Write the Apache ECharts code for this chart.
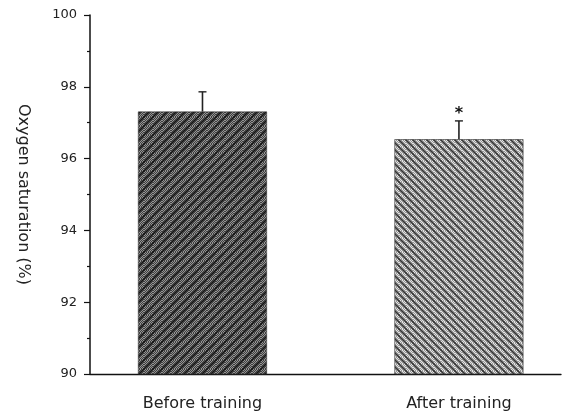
<!DOCTYPE html>
<html>
<head>
<meta charset="utf-8">
<script src="https://cdn.jsdelivr.net/npm/echarts@6/dist/echarts.min.js"></script>
<style>
  html, body { margin: 0; padding: 0; background: #fff; }
  #chart { width: 563px; height: 414px; }
</style>
</head>
<body>
<div id="chart"></div>
<script>
// Oxygen saturation before and after training (mean with SD)
const categories = ['Before training', 'After training'];
const means = [97.31, 96.54];
const upperError = [97.86, 97.05];
const significance = ['', '*'];
const yTicks = [90, 92, 94, 96, 98, 100];

// Hatched fills for the two bars
function hatch(base1, base2, line, forward, size) {
  const c = document.createElement('canvas');
  c.width = size; c.height = size;
  const g = c.getContext('2d');
  for (let y = 0; y < size; y++) {
    for (let x = 0; x < size; x++) {
      g.fillStyle = (x + y) % 2 === 0 ? base1 : base2;
      g.fillRect(x, y, 1, 1);
    }
  }
  g.strokeStyle = line;
  g.lineWidth = 1.6;
  g.beginPath();
  if (forward) {
    g.moveTo(-1, size + 1); g.lineTo(size + 1, -1);
    g.moveTo(-1 - size, size + 1); g.lineTo(1, -1);
    g.moveTo(size - 1, size + 1); g.lineTo(2 * size + 1, -1);
  } else {
    g.moveTo(-1, -1); g.lineTo(size + 1, size + 1);
    g.moveTo(-1 - size, -1); g.lineTo(1, size + 1);
    g.moveTo(size - 1, -1); g.lineTo(2 * size + 1, size + 1);
  }
  g.stroke();
  return c;
}

const fills = [
  { image: hatch('#3e3e3e', '#949494', '#151515', true, 9), repeat: 'repeat' },
  { image: hatch('#969696', '#e4e4e4', '#353535', false, 7), repeat: 'repeat' }
];

const font = '"DejaVu Sans", sans-serif';
const chart = echarts.init(document.getElementById('chart'), null, { renderer: 'canvas' });

chart.setOption({
  animation: false,
  backgroundColor: '#fff',
  grid: { left: 90, right: 2, top: 15, bottom: 40 },
  xAxis: {
    type: 'value',
    min: -0.4386,
    max: 1.398,
    splitLine: { show: false },
    axisLine: { show: true, onZero: false, lineStyle: { color: '#111', width: 1.3 } },
    axisTick: { show: false },
    axisLabel: {
      customValues: [0, 1],
      formatter: v => categories[Math.round(v)] || '',
      color: '#222', fontFamily: font, fontSize: 16, margin: 22
    }
  },
  yAxis: {
    type: 'value',
    min: yTicks[0],
    max: yTicks[yTicks.length - 1],
    interval: 2,
    name: 'Oxygen saturation (%)',
    nameLocation: 'middle',
    nameRotate: -90,
    nameGap: 59,
    nameTextStyle: { color: '#222', fontFamily: font, fontSize: 16 },
    splitLine: { show: false },
    axisLine: { show: true, onZero: false, lineStyle: { color: '#111', width: 1.5 } },
    axisTick: { show: true, length: 6, lineStyle: { color: '#111', width: 1.2 } },
    minorTick: { show: true, splitNumber: 2, length: 3, lineStyle: { color: '#111', width: 1.2 } },
    axisLabel: { color: '#222', fontFamily: font, fontSize: 13, margin: 13 }
  },
  series: [
    {
      type: 'bar',
      barWidth: 129,
      data: means.map((m, i) => ({ value: [i, m], itemStyle: { color: fills[i] } })),
      itemStyle: { borderColor: '#333', borderWidth: 0.6 }
    },
    {
      type: 'custom',
      z: 5,
      data: means.map((m, i) => [i, m, upperError[i]]),
      renderItem: (params, api) => {
        const i = api.value(0);
        const base = api.coord([i, api.value(1)]);
        const top = api.coord([i, api.value(2)]);
        const half = 4;
        const children = [
          { type: 'line', shape: { x1: base[0], y1: base[1], x2: top[0], y2: top[1] },
            style: { stroke: '#222', lineWidth: 1.6 } },
          { type: 'line', shape: { x1: top[0] - half, y1: top[1], x2: top[0] + half, y2: top[1] },
            style: { stroke: '#222', lineWidth: 1.4 } }
        ];
        const mark = significance[params.dataIndex];
        if (mark) {
          children.push({ type: 'text', x: top[0], y: top[1] - 15,
            style: { text: mark, fill: '#111', font: 'bold 16px ' + font, align: 'center', verticalAlign: 'top' } });
        }
        return { type: 'group', children };
      }
    }
  ]
});
</script>
</body>
</html>
